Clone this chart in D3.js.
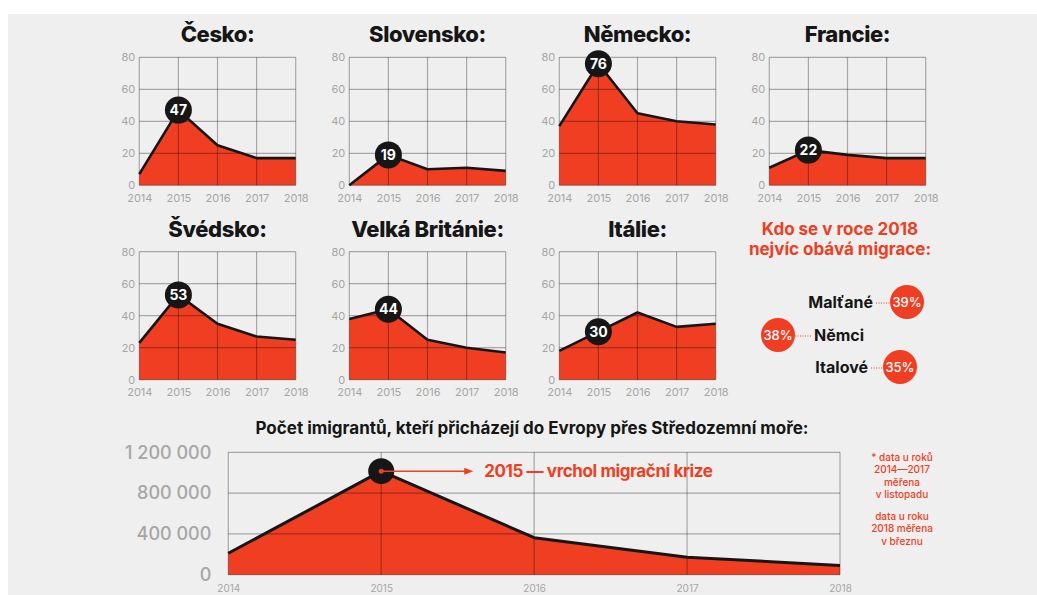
<!DOCTYPE html>
<html><head><meta charset="utf-8">
<script src="https://cdn.jsdelivr.net/npm/d3@7"></script>
<style>
html,body{margin:0;padding:0;background:#fff;}
svg{display:block;font-family:Inter, "Noto Sans", sans-serif;}
</style></head>
<body>
<svg id="chart" width="1037" height="595"></svg>
<script>
// ---------- DATA ----------
const years = [2014, 2015, 2016, 2017, 2018];
const countries = ["Česko:", "Slovensko:", "Německo:", "Francie:", "Švédsko:", "Velká Británie:", "Itálie:"];
const cesko = [7, 47, 25, 17, 17];
const slovensko = [0, 19, 10, 11, 9];
const nemecko = [37, 76, 45, 40, 38];
const francie = [11, 22, 19, 17, 17];
const svedsko = [23, 53, 35, 27, 25];
const britanie = [38, 44, 25, 20, 17];
const italie = [18, 30, 42, 33, 35];
const countrySeries = [cesko, slovensko, nemecko, francie, svedsko, britanie, italie];
const highlightYear = 2015;
const panelYTicks = [0, 20, 40, 60, 80];

const legendTitle = ["Kdo se v roce 2018", "nejvíc obává migrace:"];
const legendNames = ["Malťané", "Němci", "Italové"];
const legendValues = [39, 38, 35];

const migrantTitle = "Počet imigrantů, kteří přicházejí do Evropy přes Středozemní moře:";
const migrants = [210000, 1015000, 363000, 172000, 90000];
const migrantTicks = [0, 400000, 800000, 1200000];
const annotation = "2015 — vrchol migrační krize";
const footnote1 = ["* data u roků", "2014—2017", "měřena", "v listopadu"];
const footnote2 = ["data u roku", "2018 měřena", "v březnu"];

// ---------- STYLE ----------
const RED = "#ef3e22";
const INK = "#161616";
const GRID = "rgba(0,0,0,0.3)";
const TICK = "#a6a6a6";

const svg = d3.select("#chart");
svg.append("rect").attr("x", 8).attr("y", 14).attr("width", 1029).attr("height", 581).attr("fill", "#efefef");

// ---------- SMALL MULTIPLES ----------
const pw = 156.4, ph = 128;
countrySeries.forEach((vals, i) => {
  const col = i % 4, row = Math.floor(i / 4);
  const left = 139.3 + col * 210, top = 57.3 + row * 194.4;
  const g = svg.append("g").attr("transform", `translate(${left},${top})`);
  const x = d3.scaleLinear().domain([2014, 2018]).range([0, pw]);
  const y = d3.scaleLinear().domain([0, 80]).range([ph, 0]);
  const data = years.map((yr, k) => ({yr, v: vals[k]}));

  g.append("text").attr("x", pw / 2).attr("y", -15).attr("text-anchor", "middle")
    .attr("font-size", 22).attr("font-weight", 800).attr("fill", INK).attr("letter-spacing", -0.4)
    .text(countries[i]);

  g.append("path").datum(data)
    .attr("d", d3.area().x(d => x(d.yr)).y0(y(0)).y1(d => y(d.v)))
    .attr("fill", RED);

  const grid = g.append("g");
  panelYTicks.forEach(t => grid.append("line").attr("x1", 0).attr("x2", pw).attr("y1", y(t)).attr("y2", y(t))
    .attr("stroke", GRID).attr("stroke-width", 1.2));
  years.forEach(t => grid.append("line").attr("x1", x(t)).attr("x2", x(t)).attr("y1", 0).attr("y2", ph)
    .attr("stroke", GRID).attr("stroke-width", 1.2));

  g.append("path").datum(data)
    .attr("d", d3.line().x(d => x(d.yr)).y(d => y(d.v)))
    .attr("fill", "none").attr("stroke", INK).attr("stroke-width", 2.6).attr("stroke-linejoin", "round");

  const yAxis = d3.axisLeft(y).tickValues(panelYTicks).tickSize(0).tickPadding(4);
  g.append("g").call(yAxis).call(s => {
    s.select(".domain").remove();
    s.selectAll("text").attr("font-size", 11).attr("fill", TICK).attr("font-family", "Inter, sans-serif");
  });
  const xAxis = d3.axisBottom(x).tickValues(years).tickFormat(d3.format("d")).tickSize(0).tickPadding(9);
  g.append("g").attr("transform", `translate(0,${ph})`).call(xAxis).call(s => {
    s.select(".domain").remove();
    s.selectAll("text").attr("font-size", 11).attr("fill", TICK).attr("font-family", "Inter, sans-serif");
  });

  const hk = years.indexOf(highlightYear);
  g.append("circle").attr("cx", x(highlightYear)).attr("cy", y(vals[hk])).attr("r", 13.5).attr("fill", INK);
  g.append("text").attr("x", x(highlightYear)).attr("y", y(vals[hk])).attr("dy", "0.36em")
    .attr("text-anchor", "middle").attr("font-size", 14).attr("font-weight", 700).attr("fill", "#fff")
    .text(vals[hk]);
});

// ---------- LEGEND ----------
const lg = svg.append("g");
legendTitle.forEach((t, k) => lg.append("text").attr("x", 840).attr("y", 235 + k * 20).attr("text-anchor", "middle")
  .attr("font-size", 17).attr("font-weight", 700).attr("fill", RED).text(t));

const legendLayout = [
  {side: "right", tx: 873, cx: 907, cy: 302},
  {side: "left", tx: 814, cx: 778, cy: 335},
  {side: "right", tx: 868, cx: 900, cy: 367}
];
legendNames.forEach((name, k) => {
  const L = legendLayout[k];
  lg.append("circle").attr("cx", L.cx).attr("cy", L.cy).attr("r", 17).attr("fill", RED);
  lg.append("text").attr("x", L.cx).attr("y", L.cy).attr("dy", "0.36em").attr("text-anchor", "middle")
    .attr("font-size", 13).attr("font-weight", 500).attr("fill", "#fff").text(legendValues[k] + "%");
  lg.append("text").attr("x", L.tx).attr("y", L.cy).attr("dy", "0.36em")
    .attr("text-anchor", L.side === "right" ? "end" : "start")
    .attr("font-size", 16).attr("font-weight", 700).attr("fill", INK).text(name);
  const x1 = L.side === "right" ? L.tx + 3 : L.cx + 17;
  const x2 = L.side === "right" ? L.cx - 17 : L.tx - 3;
  lg.append("line").attr("x1", x1).attr("x2", x2).attr("y1", L.cy + 1).attr("y2", L.cy + 1)
    .attr("stroke", RED).attr("stroke-width", 1).attr("stroke-dasharray", "1,1.5");
});

// ---------- BOTTOM CHART ----------
const bl = 228.3, bt = 452.3, bw = 611.7, bh = 122.4;
const bg = svg.append("g").attr("transform", `translate(${bl},${bt})`);
const bx = d3.scaleLinear().domain([2014, 2018]).range([0, bw]);
const by = d3.scaleLinear().domain([0, 1200000]).range([bh, 0]);
const mdata = years.map((yr, k) => ({yr, v: migrants[k]}));
const fmt = d3.formatLocale({decimal: ",", thousands: " ", grouping: [3], currency: ["", ""]}).format(",d");

svg.append("text").attr("x", 532).attr("y", 434).attr("text-anchor", "middle")
  .attr("font-size", 17).attr("font-weight", 700).attr("fill", INK).text(migrantTitle);

bg.append("path").datum(mdata)
  .attr("d", d3.area().x(d => bx(d.yr)).y0(by(0)).y1(d => by(d.v))).attr("fill", RED);
migrantTicks.forEach(t => bg.append("line").attr("x1", 0).attr("x2", bw).attr("y1", by(t)).attr("y2", by(t))
  .attr("stroke", GRID).attr("stroke-width", 1.2));
years.forEach(t => bg.append("line").attr("x1", bx(t)).attr("x2", bx(t)).attr("y1", 0).attr("y2", bh)
  .attr("stroke", GRID).attr("stroke-width", 1.2));
bg.append("path").datum(mdata)
  .attr("d", d3.line().x(d => bx(d.yr)).y(d => by(d.v)))
  .attr("fill", "none").attr("stroke", INK).attr("stroke-width", 3).attr("stroke-linejoin", "round");

bg.append("g").call(d3.axisLeft(by).tickValues(migrantTicks).tickFormat(fmt).tickSize(0).tickPadding(17))
  .call(s => {
    s.select(".domain").remove();
    s.selectAll("text").attr("font-size", 18).attr("font-weight", 500).attr("fill", TICK).attr("font-family", "Inter, sans-serif");
  });
bg.append("g").attr("transform", `translate(0,${bh})`)
  .call(d3.axisBottom(bx).tickValues(years).tickFormat(d3.format("d")).tickSize(0).tickPadding(10))
  .call(s => {
    s.select(".domain").remove();
    s.selectAll("text").attr("font-size", 10).attr("fill", TICK).attr("font-family", "Inter, sans-serif");
  });

// annotation
const pk = years.indexOf(highlightYear);
const ax = bx(highlightYear), ay = by(migrants[pk]);
bg.append("circle").attr("cx", ax).attr("cy", ay).attr("r", 13).attr("fill", INK);
bg.append("circle").attr("cx", ax).attr("cy", ay).attr("r", 2.5).attr("fill", RED);
bg.append("line").attr("x1", ax).attr("x2", ax + 85).attr("y1", ay).attr("y2", ay)
  .attr("stroke", RED).attr("stroke-width", 1.5);
bg.append("path").attr("d", `M${ax + 92},${ay} L${ax + 83},${ay - 3.5} L${ax + 83},${ay + 3.5} Z`).attr("fill", RED);
bg.append("text").attr("x", ax + 103).attr("y", ay).attr("dy", "0.36em")
  .attr("font-size", 17).attr("font-weight", 700).attr("letter-spacing", -0.4).attr("fill", RED).text(annotation);

// footnote
const fg = svg.append("g").attr("font-size", 10).attr("font-weight", 500).attr("fill", RED).attr("text-anchor", "middle");
footnote1.forEach((t, k) => fg.append("text").attr("x", 902).attr("y", 461 + k * 12.3).text(t));
footnote2.forEach((t, k) => fg.append("text").attr("x", 902).attr("y", 520 + k * 12.3).text(t));
</script>
</body></html>
